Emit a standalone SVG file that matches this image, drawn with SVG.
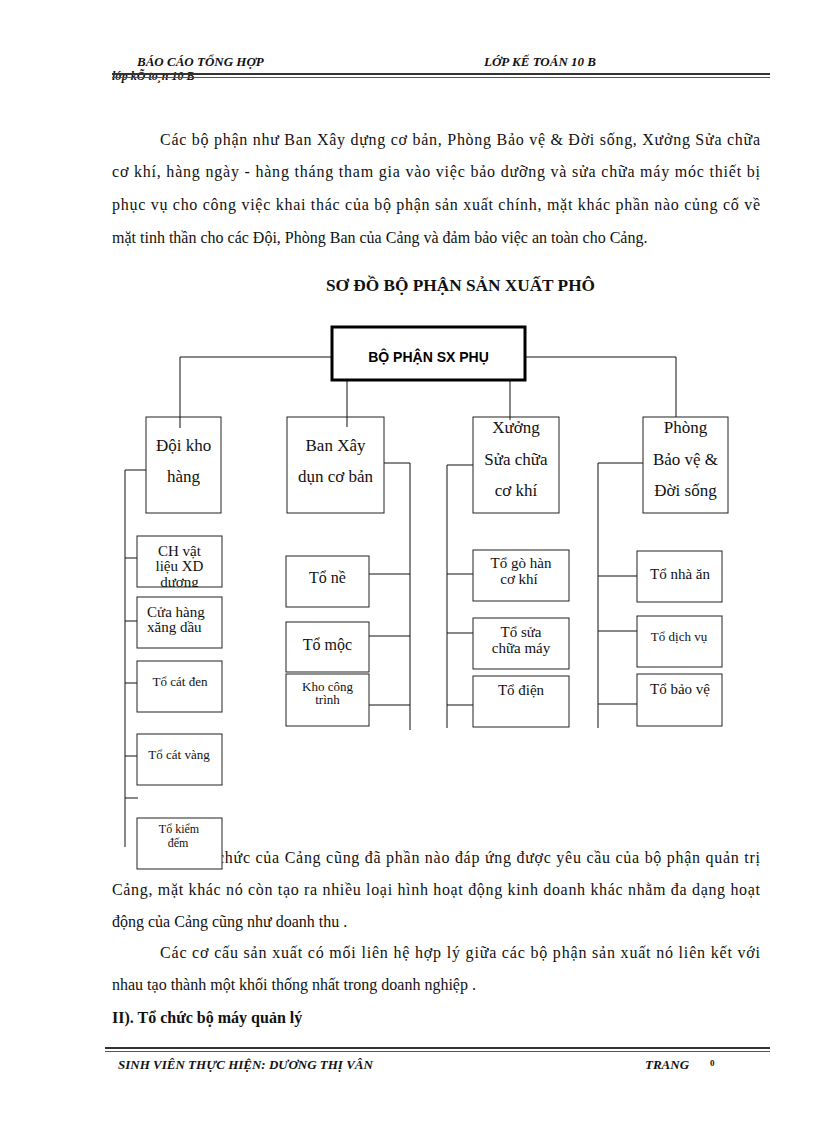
<svg xmlns="http://www.w3.org/2000/svg" width="816" height="1123" viewBox="0 0 816 1123">
<style>
.body{font-family:"Liberation Serif","Times New Roman",serif;font-size:16px;fill:#111}
.hdr{font-family:"Liberation Serif","Times New Roman",serif;font-size:13px;font-weight:bold;font-style:italic;fill:#111}
.ttl{font-family:"Liberation Serif","Times New Roman",serif;font-size:16px;font-weight:bold;fill:#111}
.box{fill:#fff;stroke:#222;stroke-width:1}
.root{fill:#fff;stroke:#000;stroke-width:3}
.lbl{font-family:"Liberation Serif","Times New Roman",serif;font-size:17px;fill:#111;text-anchor:middle}
.sm{font-family:"Liberation Serif","Times New Roman",serif;font-size:15px;fill:#111;text-anchor:middle}
.xs{font-family:"Liberation Serif","Times New Roman",serif;font-size:13px;fill:#111;text-anchor:middle}
.rt{font-family:"Liberation Sans",Arial,sans-serif;font-size:14px;font-weight:bold;fill:#000;text-anchor:middle}
.con line{stroke:#111;stroke-width:1}
</style>
<defs>
<clipPath id="clipCH"><rect x="137" y="536" width="85" height="51"/></clipPath>
</defs>
<rect width="816" height="1123" fill="#fff"/>

<!-- header -->
<text class="hdr" x="137" y="66">BÁO CÁO TỔNG HỢP</text>
<text class="hdr" x="484" y="66">LỚP KẾ TOÁN 10 B</text>
<text class="hdr" x="112" y="80" style="font-size:12px">lớp kÕ to¸n 10 B</text>
<line x1="112" y1="74" x2="770" y2="74" stroke="#333" stroke-width="2"/>
<line x1="112" y1="77.5" x2="770" y2="77.5" stroke="#555" stroke-width="1"/>

<!-- paragraph -->
<text class="body" x="160" y="145" textLength="600" lengthAdjust="spacing">Các bộ phận như Ban Xây dựng cơ bản, Phòng Bảo vệ &amp; Đời sống, Xưởng Sửa chữa</text>
<text class="body" x="112" y="177" textLength="648" lengthAdjust="spacing">cơ khí, hàng ngày - hàng tháng tham gia vào việc bảo dưỡng và sửa chữa máy móc thiết bị</text>
<text class="body" x="112" y="210" textLength="648" lengthAdjust="spacing">phục vụ cho công việc khai thác của bộ phận sản xuất chính, mặt khác phần nào củng cố về</text>
<text class="body" x="112" y="243">mặt tinh thần cho các Đội, Phòng Ban của Cảng và đảm bảo việc an toàn cho Cảng.</text>

<text class="ttl" x="326" y="291" textLength="269" lengthAdjust="spacingAndGlyphs">SƠ ĐỒ BỘ PHẬN SẢN XUẤT PHÔ</text>

<!-- lower paragraph -->
<text class="body" x="217" y="863" textLength="543" lengthAdjust="spacing">chức của Cảng cũng đã phần nào đáp ứng được yêu cầu của bộ phận quản trị</text>
<text class="body" x="112" y="895" textLength="648" lengthAdjust="spacing">Cảng, mặt khác nó còn tạo ra nhiều loại hình hoạt động kinh doanh khác nhằm đa dạng hoạt</text>
<text class="body" x="112" y="927">động của Cảng cũng như doanh thu .</text>
<text class="body" x="160" y="958" textLength="600" lengthAdjust="spacing">Các cơ cấu sản xuất có mối liên hệ hợp lý giữa các bộ phận sản xuất nó liên kết với</text>
<text class="body" x="112" y="990">nhau tạo thành một khối thống nhất trong doanh nghiệp .</text>
<text class="ttl" x="112" y="1023">II). Tổ chức bộ máy quản lý</text>

<!-- connectors -->
<g id="connectors" class="con">
<line x1="180" y1="357" x2="332" y2="357"/>
<line x1="525" y1="357" x2="676" y2="357"/>
<line x1="180" y1="357" x2="180" y2="428"/>
<line x1="347" y1="380" x2="347" y2="427"/>
<line x1="510" y1="380" x2="510" y2="420"/>
<line x1="676" y1="357" x2="676" y2="417"/>
<!-- Doi kho -->
<line x1="125" y1="470" x2="146" y2="470"/>
<line x1="125" y1="470" x2="125" y2="847"/>
<line x1="125" y1="558" x2="137" y2="558"/>
<line x1="125" y1="621" x2="137" y2="621"/>
<line x1="125" y1="683" x2="137" y2="683"/>
<line x1="125" y1="756" x2="137" y2="756"/>
<line x1="125" y1="798" x2="138" y2="798"/>
<!-- Ban Xay -->
<line x1="384" y1="463" x2="410" y2="463"/>
<line x1="410" y1="463" x2="410" y2="730"/>
<line x1="369" y1="574" x2="410" y2="574"/>
<line x1="369" y1="636" x2="410" y2="636"/>
<line x1="369" y1="705" x2="410" y2="705"/>
<!-- Xuong -->
<line x1="447" y1="465" x2="473" y2="465"/>
<line x1="447" y1="465" x2="447" y2="728"/>
<line x1="447" y1="574" x2="473" y2="574"/>
<line x1="447" y1="633" x2="473" y2="633"/>
<line x1="447" y1="705" x2="473" y2="705"/>
<!-- Phong -->
<line x1="598" y1="463" x2="643" y2="463"/>
<line x1="598" y1="463" x2="598" y2="728"/>
<line x1="598" y1="576" x2="637" y2="576"/>
<line x1="598" y1="631" x2="637" y2="631"/>
<line x1="598" y1="704" x2="637" y2="704"/>
</g>

<!-- nodes -->
<g id="n-root">
<rect class="root" x="332" y="327" width="193" height="53"/>
<text class="rt" x="428.5" y="362">BỘ PHẬN SX PHỤ</text>
</g>
<g id="n-doikho">
<rect class="box" x="146" y="417" width="75" height="96"/>
<line x1="180" y1="417" x2="180" y2="428" stroke="#111"/>
<text class="lbl" x="183.5" y="451">Đội kho</text>
<text class="lbl" x="183.5" y="482">hàng</text>
</g>
<g id="n-banxay">
<rect class="box" x="287" y="417" width="97" height="96"/>
<line x1="347" y1="417" x2="347" y2="427" stroke="#111"/>
<text class="lbl" x="335.5" y="451">Ban Xây</text>
<text class="lbl" x="335.5" y="482">dụn cơ bản</text>
</g>
<g id="n-xuong">
<rect class="box" x="473" y="417" width="86" height="96"/>
<line x1="510" y1="417" x2="510" y2="420" stroke="#111"/>
<text class="lbl" x="516" y="433">Xưởng</text>
<text class="lbl" x="516" y="465">Sửa chữa</text>
<text class="lbl" x="516" y="496">cơ khí</text>
</g>
<g id="n-phong">
<rect class="box" x="643" y="417" width="85" height="96"/>
<text class="lbl" x="685.5" y="433">Phòng</text>
<text class="lbl" x="685.5" y="465">Bảo vệ &amp;</text>
<text class="lbl" x="685.5" y="496">Đời sống</text>
</g>

<g id="n-chvatlieu">
<rect class="box" x="137" y="536" width="85" height="51"/>
<g clip-path="url(#clipCH)">
<text class="sm" x="179.5" y="556">CH vật</text>
<text class="sm" x="179.5" y="571">liệu XD</text>
<text class="sm" x="179.5" y="587">dương</text>
</g>
</g>
<g id="n-cuahang">
<rect class="box" x="137" y="597" width="85" height="51"/>
<text class="sm" x="147" y="617" style="text-anchor:start">Cửa hàng</text>
<text class="sm" x="147" y="632" style="text-anchor:start">xăng dầu</text>
</g>
<g id="n-catden">
<rect class="box" x="137" y="661" width="85" height="51"/>
<text class="xs" x="180" y="686">Tổ cát đen</text>
</g>
<g id="n-catvang">
<rect class="box" x="137" y="734" width="85" height="51"/>
<text class="xs" x="179" y="759">Tổ cát vàng</text>
</g>
<g id="n-kiemdem">
<rect class="box" x="137" y="818" width="85" height="51"/>
<text class="xs" x="179" y="833" style="font-size:12px">Tổ kiểm</text>
<text class="xs" x="178" y="847" style="font-size:12px">đếm</text>
</g>

<g id="n-tone">
<rect class="box" x="286" y="556" width="83" height="51"/>
<text class="sm" x="327.5" y="583" style="font-size:16px">Tổ nề</text>
</g>
<g id="n-tomoc">
<rect class="box" x="286" y="622" width="83" height="50"/>
<text class="sm" x="327.5" y="650" style="font-size:16px">Tổ mộc</text>
</g>
<g id="n-khocongtrinh">
<rect class="box" x="286" y="674" width="83" height="52"/>
<text class="xs" x="327.5" y="691">Kho công</text>
<text class="xs" x="327.5" y="704">trình</text>
</g>

<g id="n-gohan">
<rect class="box" x="473" y="550" width="96" height="51"/>
<text class="sm" x="521" y="568">Tổ gò hàn</text>
<text class="sm" x="519" y="584">cơ khí</text>
</g>
<g id="n-suachua">
<rect class="box" x="473" y="618" width="96" height="51"/>
<text class="sm" x="521" y="637">Tổ sửa</text>
<text class="sm" x="521" y="653">chữa máy</text>
</g>
<g id="n-dien">
<rect class="box" x="473" y="676" width="96" height="51"/>
<text class="sm" x="521" y="695">Tổ điện</text>
</g>

<g id="n-nhaan">
<rect class="box" x="637" y="551" width="85" height="51"/>
<text class="sm" x="680" y="579">Tổ nhà ăn</text>
</g>
<g id="n-dichvu">
<rect class="box" x="637" y="616" width="85" height="51"/>
<text class="xs" x="679" y="641">Tổ dịch vụ</text>
</g>
<g id="n-baove">
<rect class="box" x="637" y="674" width="85" height="52"/>
<text class="sm" x="680" y="694">Tổ bảo vệ</text>
</g>

<!-- footer -->
<line x1="105" y1="1048" x2="770" y2="1048" stroke="#333" stroke-width="2"/>
<line x1="105" y1="1051.5" x2="770" y2="1051.5" stroke="#555" stroke-width="1"/>
<text class="hdr" x="118" y="1069">SINH VIÊN THỰC HIỆN: DƯƠNG THỊ VÂN</text>
<text class="hdr" x="645" y="1069">TRANG</text>
<text class="hdr" x="710" y="1066" style="font-size:9px;font-style:normal">0</text>
</svg>
